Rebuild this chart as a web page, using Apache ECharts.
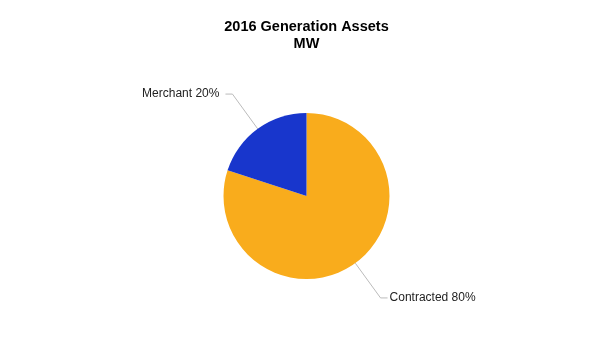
<!DOCTYPE html>
<html><head><meta charset="utf-8">
<script src="https://cdn.jsdelivr.net/npm/echarts@6/dist/echarts.min.js"></script>
<style>html,body{margin:0;padding:0;background:#fff}#c{width:613px;height:346px}</style>
</head><body><div id="c"></div>
<script>
const categories = ["Contracted", "Merchant"];
const values = [80, 20];
const colors = ["#F9AC1C", "#1836CC"];
const labelGaps = [2, 6];

const chart = echarts.init(document.getElementById('c'));
chart.setOption({
  animation: false,
  title: {
    text: "2016 Generation Assets\nMW",
    left: 'center', top: 13,
    textStyle: { fontFamily: 'Liberation Sans, Arial', fontSize: 14.5, fontWeight: 'bold', color: '#000', lineHeight: 17 }
  },
  series: [{
    type: 'pie',
    center: [306.5, 196],
    radius: [0, 83],
    startAngle: 90,
    clockwise: true,
    data: categories.map((c, i) => ({ name: c, value: values[i], itemStyle: { color: colors[i] },
      label: { distanceToLabelLine: labelGaps[i] } })),
    label: {
      formatter: p => p.name + ' ' + p.value + '%',
      fontFamily: 'Liberation Sans, Arial', fontSize: 12, color: '#222'
    },
    labelLine: { length: 43, length2: 7, lineStyle: { color: '#bbb', width: 1 }, smooth: false },
    emphasis: { disabled: true }
  }]
});
</script></body></html>
